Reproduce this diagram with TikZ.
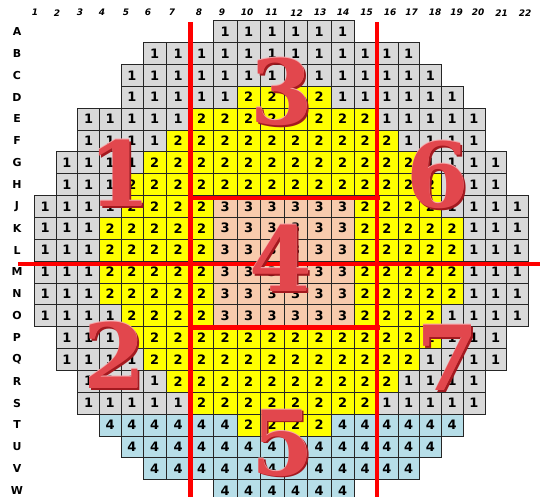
\documentclass[tikz,border=0pt]{standalone}
\usepackage{fontspec}
\setmainfont{DejaVu Sans}
\newfontfamily\zonefont{DejaVu Serif}
\usepackage{xcolor}

\definecolor{cellgray}{HTML}{D9D9D9}
\definecolor{cellyellow}{HTML}{FFFF00}
\definecolor{cellpeach}{HTML}{F8CBAD}
\definecolor{cellblue}{HTML}{B7DEE8}
\definecolor{zonered}{HTML}{E2474D}
\definecolor{zonedark}{HTML}{A3191F}
\definecolor{zonelight}{HTML}{F7A9AC}

\begin{document}
\begin{tikzpicture}[
  x=1bp, y=-1bp,
  declare function={
    colx(\p)=34.3+21.7*min(\p-1,5)+23.5*max(min(\p-6,9),0)+21.75*max(\p-15,0);
    rowy(\p)=20.7+(\p-1)*21.85;
  },
  every node/.style={inner sep=0pt},
  cell/.style={draw=black!85, line width=0.6bp, minimum height=21.85bp,
               font=\bfseries\fontsize{13}{13}\selectfont},
  cell1/.style={cell, fill=cellgray},
  cell2/.style={cell, fill=cellyellow},
  cell3/.style={cell, fill=cellpeach},
  cell4/.style={cell, fill=cellblue},
  colhead/.style={font=\bfseries\itshape\fontsize{9}{9}\selectfont},
  rowhead/.style={font=\bfseries\fontsize{11}{11}\selectfont},
  divider/.style={draw=red, line width=4.5bp},
  zone/.style={font=\zonefont\bfseries\fontsize{90}{90}\selectfont, text=zonered},
  zoneshade/.style={zone, text=zonedark},
  zonerim/.style={zone, text=zonelight}
]
\useasboundingbox (0,0) rectangle (540,497);
\clip (0,0) rectangle (540,497);
\fill [white] (0,0) rectangle (540,497);

% ---- Column numbers ----
\foreach \x [count=\c] in {35,57,80,102,126,148,172,199,222,247,271.5,296.5,
                           320,343,366.5,390,411.5,435,456.5,478,501.5,525}
  \node (col\c) [colhead] at (\x,12.7) {\c};

% ---- Rows: letter + cells (from/to/value) ----
\foreach \l/\segs [count=\r] in {
  A/{9/14/1},
  B/{6/17/1},
  C/{5/18/1},
  D/{5/9/1, 10/13/2, 14/19/1},
  E/{3/7/1, 8/15/2, 16/20/1},
  F/{3/6/1, 7/16/2, 17/20/1},
  G/{2/5/1, 6/17/2, 18/21/1},
  H/{2/4/1, 5/18/2, 19/21/1},
  J/{1/4/1, 5/8/2, 9/14/3, 15/18/2, 19/22/1},
  K/{1/3/1, 4/8/2, 9/14/3, 15/19/2, 20/22/1},
  L/{1/3/1, 4/8/2, 9/14/3, 15/19/2, 20/22/1},
  M/{1/3/1, 4/8/2, 9/14/3, 15/19/2, 20/22/1},
  N/{1/3/1, 4/8/2, 9/14/3, 15/19/2, 20/22/1},
  O/{1/4/1, 5/8/2, 9/14/3, 15/18/2, 19/22/1},
  P/{2/4/1, 5/18/2, 19/21/1},
  Q/{2/5/1, 6/17/2, 18/21/1},
  R/{3/6/1, 7/16/2, 17/20/1},
  S/{3/7/1, 8/15/2, 16/20/1},
  T/{4/9/4, 10/13/2, 14/19/4},
  U/{5/18/4},
  V/{6/17/4},
  W/{9/14/4}%
} {
  \node (row\l) [rowhead] at (17,{rowy(\r)+10.9}) {\l};
  \foreach \a/\b/\v in \segs
    \foreach \c in {\a,...,\b} {
      \pgfmathsetmacro\cx{(colx(\c)+colx(\c+1))/2}
      \pgfmathsetmacro\cw{colx(\c+1)-colx(\c)}
      \node (\l\c) [cell\v, minimum width=\cw bp] at (\cx,{rowy(\r)+10.925}) {\v};
    }
}

% ---- Zone dividers ----
\draw [divider] (190.5,22.3) -- (190.5,497);
\draw [divider] (377,22.3) -- (377,497);
\draw [divider] (18,264) -- (540,264);
\draw [divider] (188.5,198) -- (379.5,198);
\draw [divider] (188.5,327.5) -- (379.5,327.5);

% ---- Zone numbers ----
\foreach \n/\x/\y in {1/120/173, 2/115/355, 3/282/92, 4/281/258,
                      5/283/443, 6/438/175, 7/448/358} {
  \node (shade\n) [zoneshade] at (\x+1.8,\y+1.8) {\n};
  \node (rim\n) [zonerim] at (\x-0.8,\y-0.8) {\n};
  \node (zone\n) [zone] at (\x,\y) {\n};
}
\end{tikzpicture}
\end{document}
